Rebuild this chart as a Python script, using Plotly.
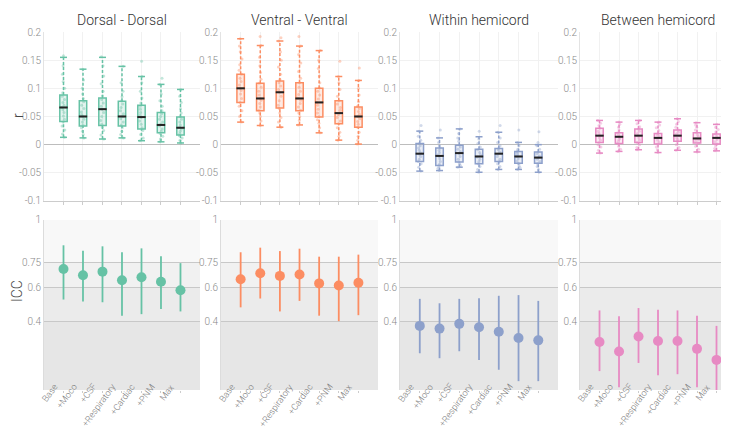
import plotly.graph_objects as go
from plotly.subplots import make_subplots

categories = ["Base", "+Moco", "+CSF", "+Respiratory", "+Cardiac", "+PNM", "Max"]
panel_titles = ["Dorsal - Dorsal", "Ventral - Ventral", "Within hemicord", "Between hemicord"]
colors = ["#66c2a5", "#fc8d62", "#8da0cb", "#e78ac3"]
fills = ["rgba(102,194,165,0.18)", "rgba(252,141,98,0.18)", "rgba(141,160,203,0.18)", "rgba(231,138,195,0.18)"]

# ---- r box statistics (top row) ----
dd_q1 = [0.041, 0.033, 0.034, 0.033, 0.028, 0.021, 0.017]
dd_median = [0.066, 0.050, 0.063, 0.050, 0.049, 0.035, 0.030]
dd_q3 = [0.088, 0.078, 0.083, 0.077, 0.070, 0.057, 0.049]
dd_lower = [0.013, 0.012, 0.010, 0.012, 0.007, 0.005, 0.003]
dd_upper = [0.155, 0.134, 0.155, 0.139, 0.121, 0.107, 0.098]

vv_q1 = [0.075, 0.060, 0.065, 0.060, 0.049, 0.037, 0.031]
vv_median = [0.100, 0.082, 0.093, 0.082, 0.075, 0.056, 0.050]
vv_q3 = [0.125, 0.109, 0.113, 0.110, 0.100, 0.078, 0.067]
vv_lower = [0.040, 0.034, 0.031, 0.035, 0.021, 0.008, 0.001]
vv_upper = [0.188, 0.176, 0.184, 0.175, 0.167, 0.121, 0.114]

wh_q1 = [-0.030, -0.037, -0.031, -0.034, -0.030, -0.033, -0.033]
wh_median = [-0.016, -0.020, -0.015, -0.021, -0.016, -0.021, -0.023]
wh_q3 = [0.002, -0.006, -0.001, -0.008, -0.007, -0.012, -0.013]
wh_lower = [-0.047, -0.046, -0.040, -0.049, -0.044, -0.044, -0.049]
wh_upper = [0.024, 0.012, 0.028, 0.014, 0.022, 0.004, 0.000]

bh_q1 = [0.004, 0.002, 0.004, 0.001, 0.006, 0.003, 0.001]
bh_median = [0.016, 0.014, 0.016, 0.012, 0.016, 0.011, 0.012]
bh_q3 = [0.029, 0.021, 0.028, 0.020, 0.026, 0.021, 0.019]
bh_lower = [-0.015, -0.012, -0.009, -0.014, -0.010, -0.013, -0.011]
bh_upper = [0.043, 0.040, 0.043, 0.040, 0.046, 0.039, 0.036]

# ---- individual r values (points) ----
dd_points = [
    [0.013, 0.019, 0.026, 0.033, 0.040, 0.045, 0.051, 0.057, 0.062, 0.066, 0.070, 0.075, 0.080, 0.086, 0.092, 0.100, 0.112, 0.125, 0.140, 0.158],
    [0.012, 0.018, 0.024, 0.030, 0.035, 0.040, 0.045, 0.050, 0.053, 0.058, 0.064, 0.070, 0.076, 0.082, 0.090, 0.100, 0.115, 0.134],
    [0.010, 0.017, 0.025, 0.031, 0.036, 0.043, 0.050, 0.057, 0.063, 0.068, 0.074, 0.080, 0.087, 0.095, 0.108, 0.122, 0.140, 0.156],
    [0.012, 0.018, 0.024, 0.030, 0.035, 0.040, 0.046, 0.050, 0.055, 0.060, 0.066, 0.072, 0.078, 0.085, 0.095, 0.110, 0.139],
    [0.007, 0.012, 0.018, 0.025, 0.030, 0.036, 0.042, 0.048, 0.052, 0.057, 0.063, 0.068, 0.074, 0.083, 0.095, 0.110, 0.121, 0.148],
    [0.005, 0.010, 0.015, 0.020, 0.024, 0.028, 0.033, 0.036, 0.040, 0.045, 0.050, 0.055, 0.060, 0.068, 0.078, 0.090, 0.107, 0.118],
    [0.003, 0.008, 0.012, 0.016, 0.020, 0.024, 0.028, 0.031, 0.035, 0.040, 0.045, 0.050, 0.056, 0.064, 0.075, 0.086, 0.098],
]
vv_points = [
    [0.040, 0.050, 0.060, 0.068, 0.075, 0.082, 0.090, 0.096, 0.100, 0.106, 0.112, 0.118, 0.125, 0.132, 0.142, 0.152, 0.165, 0.175, 0.188],
    [0.034, 0.042, 0.050, 0.056, 0.061, 0.067, 0.073, 0.079, 0.082, 0.088, 0.095, 0.102, 0.109, 0.116, 0.128, 0.140, 0.155, 0.176, 0.192],
    [0.031, 0.040, 0.048, 0.056, 0.064, 0.070, 0.078, 0.086, 0.093, 0.098, 0.104, 0.110, 0.116, 0.125, 0.138, 0.150, 0.165, 0.184, 0.190],
    [0.035, 0.043, 0.050, 0.056, 0.061, 0.067, 0.073, 0.079, 0.083, 0.089, 0.095, 0.102, 0.110, 0.118, 0.130, 0.145, 0.160, 0.175, 0.192],
    [0.021, 0.030, 0.038, 0.044, 0.050, 0.056, 0.063, 0.070, 0.075, 0.081, 0.088, 0.095, 0.101, 0.110, 0.122, 0.135, 0.150, 0.167],
    [0.008, 0.015, 0.022, 0.030, 0.037, 0.042, 0.048, 0.053, 0.056, 0.061, 0.066, 0.072, 0.078, 0.086, 0.098, 0.110, 0.121, 0.148],
    [0.001, 0.008, 0.015, 0.022, 0.031, 0.036, 0.041, 0.046, 0.050, 0.054, 0.059, 0.064, 0.068, 0.076, 0.088, 0.100, 0.114, 0.136],
]
wh_points = [
    [-0.047, -0.040, -0.034, -0.030, -0.026, -0.021, -0.017, -0.014, -0.010, -0.006, -0.002, 0.002, 0.008, 0.015, 0.024, 0.034],
    [-0.046, -0.042, -0.038, -0.035, -0.030, -0.025, -0.021, -0.018, -0.014, -0.010, -0.006, -0.002, 0.004, 0.012, 0.026],
    [-0.040, -0.037, -0.034, -0.031, -0.026, -0.021, -0.016, -0.012, -0.008, -0.004, 0.000, 0.006, 0.012, 0.020, 0.028],
    [-0.049, -0.044, -0.039, -0.034, -0.030, -0.026, -0.022, -0.018, -0.014, -0.009, -0.004, 0.002, 0.010, 0.024],
    [-0.044, -0.039, -0.034, -0.030, -0.026, -0.021, -0.017, -0.013, -0.009, -0.006, -0.002, 0.004, 0.012, 0.022, 0.034],
    [-0.044, -0.040, -0.036, -0.033, -0.029, -0.025, -0.021, -0.018, -0.015, -0.012, -0.008, -0.002, 0.004, 0.026],
    [-0.049, -0.044, -0.039, -0.034, -0.030, -0.026, -0.023, -0.020, -0.016, -0.013, -0.008, -0.002, 0.004, 0.023],
]
bh_points = [
    [-0.015, -0.010, -0.004, 0.000, 0.004, 0.008, 0.012, 0.016, 0.020, 0.024, 0.029, 0.034, 0.038, 0.043],
    [-0.012, -0.008, -0.003, 0.002, 0.006, 0.009, 0.012, 0.014, 0.017, 0.021, 0.026, 0.031, 0.036, 0.040],
    [-0.009, -0.005, 0.000, 0.004, 0.008, 0.012, 0.016, 0.020, 0.024, 0.028, 0.032, 0.037, 0.043],
    [-0.014, -0.009, -0.004, 0.001, 0.004, 0.008, 0.012, 0.015, 0.018, 0.020, 0.025, 0.030, 0.035, 0.040],
    [-0.010, -0.005, 0.000, 0.006, 0.009, 0.012, 0.016, 0.019, 0.022, 0.026, 0.031, 0.036, 0.041, 0.046],
    [-0.013, -0.008, -0.003, 0.003, 0.006, 0.009, 0.011, 0.014, 0.017, 0.021, 0.026, 0.031, 0.035, 0.039],
    [-0.011, -0.007, -0.002, 0.001, 0.005, 0.009, 0.012, 0.015, 0.019, 0.023, 0.027, 0.031, 0.036],
]

# ---- ICC (bottom row) ----
dd_icc = [0.712, 0.675, 0.696, 0.645, 0.663, 0.637, 0.587]
dd_icc_lo = [0.532, 0.520, 0.516, 0.437, 0.446, 0.476, 0.462]
dd_icc_hi = [0.851, 0.819, 0.845, 0.810, 0.833, 0.786, 0.746]

vv_icc = [0.651, 0.687, 0.671, 0.679, 0.627, 0.615, 0.631]
vv_icc_lo = [0.486, 0.538, 0.462, 0.524, 0.437, 0.405, 0.440]
vv_icc_hi = [0.810, 0.837, 0.817, 0.831, 0.784, 0.784, 0.796]

wh_icc = [0.377, 0.361, 0.389, 0.369, 0.343, 0.306, 0.292]
wh_icc_lo = [0.216, 0.187, 0.228, 0.177, 0.119, 0.052, 0.052]
wh_icc_hi = [0.536, 0.510, 0.536, 0.540, 0.554, 0.558, 0.524]

bh_icc = [0.282, 0.226, 0.315, 0.288, 0.288, 0.242, 0.177]
bh_icc_lo = [0.111, 0.016, 0.159, 0.087, 0.093, 0.016, 0.000]
bh_icc_hi = [0.468, 0.433, 0.482, 0.472, 0.468, 0.437, 0.377]

r_ticks = [-0.1, -0.05, 0, 0.05, 0.1, 0.15, 0.2]
r_ticktext = ["-0.1", "-0.05", "0", "0.05", "0.1", "0.15", "0.2"]
icc_ticks = [0.4, 0.6, 0.75, 1]
icc_ticktext = ["0.4", "0.6", "0.75", "1"]
icc_bands = [(0.75, 1.0, "#f8f8f8"), (0.6, 0.75, "#f1f1f1"), (0.4, 0.6, "#ebebeb"), (0.0, 0.4, "#e6e6e6")]

panels = [
    (dd_q1, dd_median, dd_q3, dd_lower, dd_upper, dd_points, dd_icc, dd_icc_lo, dd_icc_hi),
    (vv_q1, vv_median, vv_q3, vv_lower, vv_upper, vv_points, vv_icc, vv_icc_lo, vv_icc_hi),
    (wh_q1, wh_median, wh_q3, wh_lower, wh_upper, wh_points, wh_icc, wh_icc_lo, wh_icc_hi),
    (bh_q1, bh_median, bh_q3, bh_lower, bh_upper, bh_points, bh_icc, bh_icc_lo, bh_icc_hi),
]

fig = make_subplots(rows=2, cols=4)

FONT = "Roboto"
for i, (q1, med, q3, lo, hi, pts, icc, icc_lo, icc_hi) in enumerate(panels):
    col = i + 1
    c = colors[i]
    # individual points (invisible box, only jittered points)
    px, py = [], []
    for cat, vals in zip(categories, pts):
        px += [cat] * len(vals)
        py += vals
    fig.add_trace(go.Box(x=px, y=py, boxpoints="all", jitter=0.5, pointpos=0, width=0.38,
                         fillcolor="rgba(0,0,0,0)", line=dict(width=0, color="rgba(0,0,0,0)"),
                         marker=dict(color=c, size=3, opacity=0.4), showlegend=False,
                         hoverinfo="skip"), row=1, col=col)
    # dashed whiskers
    wx, wy = [], []
    for k, cat in enumerate(categories):
        wx += [cat, cat, None, cat, cat, None]
        wy += [q3[k], hi[k], None, lo[k], q1[k], None]
    fig.add_trace(go.Scatter(x=wx, y=wy, mode="lines", line=dict(color=c, width=1.5, dash="3px,2px"),
                             connectgaps=False, showlegend=False, hoverinfo="skip"), row=1, col=col)
    # whisker caps
    fig.add_trace(go.Scatter(x=categories + categories, y=hi + lo, mode="markers",
                             marker=dict(symbol="line-ew", size=5, line=dict(color=c, width=1.5)),
                             showlegend=False, hoverinfo="skip"), row=1, col=col)
    # boxes
    fig.add_trace(go.Box(x=categories, q1=q1, median=med, q3=q3, lowerfence=q1, upperfence=q3,
                         width=0.38, fillcolor=fills[i], line=dict(color=c, width=1.5),
                         boxpoints=False, showlegend=False, hoverinfo="skip"), row=1, col=col)
    # medians in black
    fig.add_trace(go.Scatter(x=categories, y=med, mode="markers",
                             marker=dict(symbol="line-ew", size=6, line=dict(color="#222222", width=2)),
                             showlegend=False, hoverinfo="skip"), row=1, col=col)
    # ICC with confidence intervals
    plus = [h - v for h, v in zip(icc_hi, icc)]
    minus = [v - l for v, l in zip(icc, icc_lo)]
    fig.add_trace(go.Scatter(x=categories, y=icc, mode="markers",
                             marker=dict(color=c, size=10),
                             error_y=dict(type="data", array=plus, arrayminus=minus, thickness=1.8,
                                          width=0, color=c),
                             showlegend=False, hoverinfo="skip"), row=2, col=col)

xdoms = [[0, 0.2254], [0.2558, 0.4827], [0.5145, 0.7428], [0.7746, 1.0]]
top_dom = [0.528, 1.0]
bot_dom = [0.0, 0.475]
tickfont = dict(family=FONT, size=10, color="#8a8a8a", weight=300)
xtickfont = dict(family=FONT, size=9, color="#7a7a7a", weight=300)

shapes = []
annotations = []
for i in range(4):
    t = i + 1
    b = i + 5
    fig.layout[f"xaxis{t}"].update(domain=xdoms[i], range=[-1, 7], showticklabels=False,
                                   showgrid=True, gridcolor="#f1f1f1", showline=True,
                                   linecolor="#cccccc", ticks="outside", ticklen=3,
                                   tickcolor="#cccccc", automargin=False,
                                   categoryorder="array", categoryarray=categories)
    fig.layout[f"yaxis{t}"].update(domain=top_dom, range=[-0.1, 0.2], tickvals=r_ticks,
                                   ticktext=r_ticktext, showgrid=True, gridcolor="#f1f1f1",
                                   zeroline=True, zerolinecolor="#bdbdbd", zerolinewidth=1,
                                   showline=True, linecolor="#e3e3e3", tickfont=tickfont,
                                   automargin=False)
    fig.layout[f"xaxis{b}"].update(domain=xdoms[i], range=[-1, 7], showticklabels=False,
                                   showgrid=False, showline=False, ticks="outside", ticklen=2,
                                   tickcolor="#cccccc", automargin=False,
                                   categoryorder="array", categoryarray=categories)
    fig.layout[f"yaxis{b}"].update(domain=bot_dom, range=[0, 1], tickvals=icc_ticks,
                                   ticktext=icc_ticktext, showgrid=True, gridcolor="#c8c8c8",
                                   zeroline=False, showline=True, linecolor="#dcdcdc",
                                   tickfont=tickfont, automargin=False)
    for y0, y1, fc in icc_bands:
        shapes.append(dict(type="rect", xref=f"x{b} domain", yref=f"y{b}", x0=0, x1=1,
                           y0=y0, y1=y1, fillcolor=fc, line=dict(width=0), layer="below"))
    annotations.append(dict(text=panel_titles[i], x=(xdoms[i][0] + xdoms[i][1]) / 2,
                            y=1 + 12 / 358, xref="paper", yref="paper", showarrow=False,
                            xanchor="center", yanchor="middle",
                            font=dict(family=FONT, size=14, color="#333333", weight=300)))
    # rotated category labels
    for cat in categories:
        annotations.append(dict(text=cat, x=cat, y=0, xref=f"x{b}", yref=f"y{b}",
                                showarrow=False, textangle=-54, xanchor="right", yanchor="top",
                                xshift=-1, yshift=11, font=xtickfont))

annotations.append(dict(text="r", x=-26 / 692, y=(382 - 108) / 358, xref="paper", yref="paper",
                        showarrow=False, textangle=-90, xanchor="center", yanchor="middle",
                        font=dict(family=FONT, size=14, color="#444444", weight=300)))
annotations.append(dict(text="ICC", x=-27 / 692, y=(382 - 283) / 358, xref="paper", yref="paper",
                        showarrow=False, textangle=-90, xanchor="center", yanchor="middle",
                        font=dict(family=FONT, size=14, color="#444444", weight=300)))

fig.update_layout(width=729, height=430, margin=dict(l=36, r=1, t=24, b=48),
                  paper_bgcolor="white", plot_bgcolor="white", boxmode="overlay",
                  shapes=shapes, annotations=annotations, showlegend=False,
                  font=dict(family=FONT))

fig.write_html("out.html")
